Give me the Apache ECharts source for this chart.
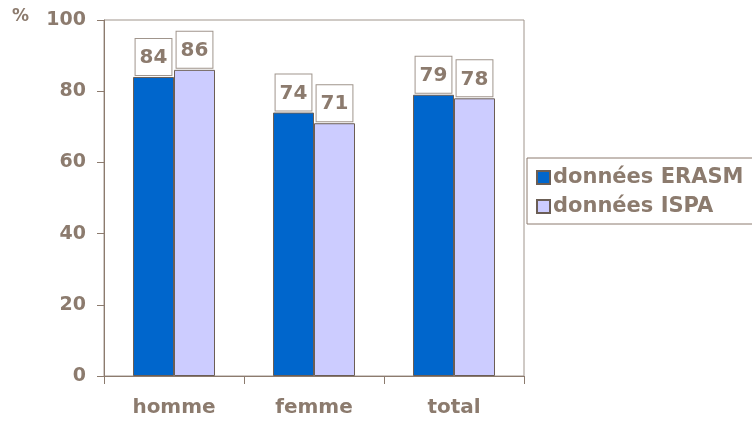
<!DOCTYPE html>
<html><head><meta charset="utf-8">
<script src="https://cdn.jsdelivr.net/npm/echarts@6/dist/echarts.min.js"></script>
<style>html,body{margin:0;padding:0;background:#fff}#c{width:752px;height:423px}</style>
</head><body><div id="c"></div>
<script>
const categories = ['homme', 'femme', 'total'];
const erasm = [84, 74, 79];
const ispa = [86, 71, 78];
const seriesNames = ['données ERASM', 'données ISPA'];
const yUnit = '%';

const txt = '#8C7B6E';
const font = '"DejaVu Sans", sans-serif';
const chart = echarts.init(document.getElementById('c'));
const label = {
  show: true, position: 'top', distance: 2,
  color: txt, fontFamily: font, fontWeight: 'bold', fontSize: 20,
  backgroundColor: '#fff', borderColor: '#A0958C', borderWidth: 1,
  padding: [9, 4, 7, 4]
};
chart.setOption({
  animation: false,
  textStyle: { fontFamily: font },
  grid: { left: 104, right: 228, top: 20, bottom: 47, show: true, borderColor: '#A0958C', borderWidth: 1 },
  graphic: [{ type: 'text', left: 12, top: 8, style: { text: yUnit, fill: txt, font: 'bold 17px ' + font } }],
  legend: {
    orient: 'vertical', left: 527, top: 158,
    padding: [9, 40, 7, 9], itemGap: 8,
    itemWidth: 13, itemHeight: 13, icon: 'rect',
    borderColor: '#8C7B6E', borderWidth: 1,
    textStyle: { color: txt, fontWeight: 'bold', fontSize: 21, fontFamily: font, padding: [0, 0, 0, -2] }
  },
  xAxis: {
    type: 'category', data: categories,
    axisLine: { lineStyle: { color: '#8C7B6E' } },
    axisTick: { show: true, length: 8, lineStyle: { color: '#8C7B6E' } },
    axisLabel: { color: txt, fontFamily: font, fontWeight: 'bold', fontSize: 20, margin: 22 }
  },
  yAxis: {
    type: 'value', min: 0, max: 100, interval: 20,
    splitLine: { show: false },
    axisLine: { show: true, lineStyle: { color: '#8C7B6E' } },
    axisTick: { show: true, length: 7, lineStyle: { color: '#8C7B6E' } },
    axisLabel: { color: txt, fontFamily: font, fontWeight: 'bold', fontSize: 19, margin: 18, align: 'right' }
  },
  series: [
    { name: seriesNames[0], type: 'bar', data: erasm, barWidth: 41, barGap: '0%',
      itemStyle: { color: '#0066CC', borderColor: '#6B5E55', borderWidth: 1 }, label },
    { name: seriesNames[1], type: 'bar', data: ispa, barWidth: 41,
      itemStyle: { color: '#CCCCFF', borderColor: '#6B5E55', borderWidth: 1 }, label }
  ]
});
</script></body></html>
